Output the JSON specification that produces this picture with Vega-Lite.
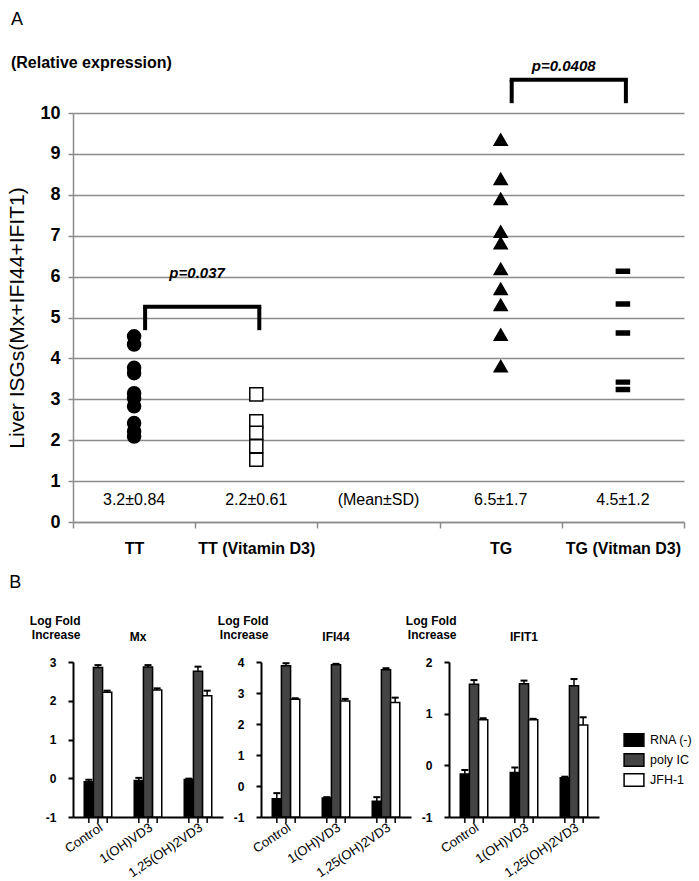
{
  "$schema": "https://vega.github.io/schema/vega-lite/v6.json",
  "background": "white",
  "padding": {"left": 6, "top": 10, "right": 5, "bottom": 0},
  "config": {"font": "Liberation Sans", "view": {"stroke": null}, "axisY": {"labelOverlap": false, "labelSeparation": 0}},
  "datasets": {
    "liver": [
      {"g": "TT", "v": 4.54}, {"g": "TT", "v": 4.34}, {"g": "TT", "v": 3.77}, {"g": "TT", "v": 3.64}, {"g": "TT", "v": 3.15},
      {"g": "TT", "v": 3.03}, {"g": "TT", "v": 2.83}, {"g": "TT", "v": 2.42}, {"g": "TT", "v": 2.22}, {"g": "TT", "v": 2.09},
      {"g": "TT (Vitamin D3)", "v": 3.12}, {"g": "TT (Vitamin D3)", "v": 2.46}, {"g": "TT (Vitamin D3)", "v": 2.18}, {"g": "TT (Vitamin D3)", "v": 1.85}, {"g": "TT (Vitamin D3)", "v": 1.52},
      {"g": "TG", "v": 9.35}, {"g": "TG", "v": 8.39}, {"g": "TG", "v": 7.9}, {"g": "TG", "v": 7.1}, {"g": "TG", "v": 6.82},
      {"g": "TG", "v": 6.19}, {"g": "TG", "v": 5.7}, {"g": "TG", "v": 5.31}, {"g": "TG", "v": 4.58}, {"g": "TG", "v": 3.81},
      {"g": "TG (Vitman D3)", "v": 6.13}, {"g": "TG (Vitman D3)", "v": 5.33}, {"g": "TG (Vitman D3)", "v": 4.62}, {"g": "TG (Vitman D3)", "v": 3.42}, {"g": "TG (Vitman D3)", "v": 3.24}
    ],
    "stats": [
      {"g": "TT", "t": "3.2±0.84"},
      {"g": "TT (Vitamin D3)", "t": "2.2±0.61"},
      {"g": "Mean±SD", "t": "(Mean±SD)"},
      {"g": "TG", "t": "6.5±1.7"},
      {"g": "TG (Vitman D3)", "t": "4.5±1.2"}
    ],
    "brackets": [
      {"g1": "TT", "g2": "TT (Vitamin D3)", "lo": 4.69, "hi": 5.26, "p": "p=0.037", "py": 6.09},
      {"g1": "TG", "g2": "TG (Vitman D3)", "lo": 10.24, "hi": 10.81, "p": "p=0.0408", "py": 11.15}
    ],
    "fold": [
      {"gene": "Mx", "grp": "Control", "s": "RNA (-)", "v": -0.09, "hi": -0.04},
      {"gene": "Mx", "grp": "Control", "s": "poly IC", "v": 2.86, "hi": 2.92},
      {"gene": "Mx", "grp": "Control", "s": "JFH-1", "v": 2.22, "hi": 2.26},
      {"gene": "Mx", "grp": "1(OH)VD3", "s": "RNA (-)", "v": -0.06, "hi": 0.01},
      {"gene": "Mx", "grp": "1(OH)VD3", "s": "poly IC", "v": 2.87, "hi": 2.92},
      {"gene": "Mx", "grp": "1(OH)VD3", "s": "JFH-1", "v": 2.28, "hi": 2.32},
      {"gene": "Mx", "grp": "1,25(OH)2VD3", "s": "RNA (-)", "v": -0.03, "hi": -0.01},
      {"gene": "Mx", "grp": "1,25(OH)2VD3", "s": "poly IC", "v": 2.76, "hi": 2.88},
      {"gene": "Mx", "grp": "1,25(OH)2VD3", "s": "JFH-1", "v": 2.13, "hi": 2.26},
      {"gene": "IFI44", "grp": "Control", "s": "RNA (-)", "v": -0.41, "hi": -0.23},
      {"gene": "IFI44", "grp": "Control", "s": "poly IC", "v": 3.88, "hi": 3.96},
      {"gene": "IFI44", "grp": "Control", "s": "JFH-1", "v": 2.8, "hi": 2.83},
      {"gene": "IFI44", "grp": "1(OH)VD3", "s": "RNA (-)", "v": -0.39, "hi": -0.36},
      {"gene": "IFI44", "grp": "1(OH)VD3", "s": "poly IC", "v": 3.91, "hi": 3.94},
      {"gene": "IFI44", "grp": "1(OH)VD3", "s": "JFH-1", "v": 2.74, "hi": 2.81},
      {"gene": "IFI44", "grp": "1,25(OH)2VD3", "s": "RNA (-)", "v": -0.49, "hi": -0.36},
      {"gene": "IFI44", "grp": "1,25(OH)2VD3", "s": "poly IC", "v": 3.75, "hi": 3.8},
      {"gene": "IFI44", "grp": "1,25(OH)2VD3", "s": "JFH-1", "v": 2.69, "hi": 2.85},
      {"gene": "IFIT1", "grp": "Control", "s": "RNA (-)", "v": -0.17, "hi": -0.09},
      {"gene": "IFIT1", "grp": "Control", "s": "poly IC", "v": 1.57, "hi": 1.65},
      {"gene": "IFIT1", "grp": "Control", "s": "JFH-1", "v": 0.88, "hi": 0.91},
      {"gene": "IFIT1", "grp": "1(OH)VD3", "s": "RNA (-)", "v": -0.14, "hi": -0.04},
      {"gene": "IFIT1", "grp": "1(OH)VD3", "s": "poly IC", "v": 1.58, "hi": 1.64},
      {"gene": "IFIT1", "grp": "1(OH)VD3", "s": "JFH-1", "v": 0.88, "hi": 0.9},
      {"gene": "IFIT1", "grp": "1,25(OH)2VD3", "s": "RNA (-)", "v": -0.24, "hi": -0.22},
      {"gene": "IFIT1", "grp": "1,25(OH)2VD3", "s": "poly IC", "v": 1.54, "hi": 1.67},
      {"gene": "IFIT1", "grp": "1,25(OH)2VD3", "s": "JFH-1", "v": 0.78, "hi": 0.93}
    ]
  },
  "bounds": "flush",
  "spacing": 140,
  "vconcat": [
    {
      "title": {"text": "A", "subtitle": "(Relative expression)", "anchor": "start", "frame": "bounds", "fontSize": 18, "fontWeight": "normal", "color": "black", "subtitleFontSize": 16, "subtitleFontWeight": "bold", "subtitleColor": "black", "subtitlePadding": 26, "offset": -12, "dx": 4},
      "width": 611,
      "height": 409,
      "encoding": {
        "x": {"field": "g", "type": "nominal",
          "scale": {"domain": ["TT", "TT (Vitamin D3)", "Mean±SD", "TG", "TG (Vitman D3)"], "paddingInner": 0, "paddingOuter": 0},
          "axis": {"title": null, "tickBand": "extent", "labelAngle": 0, "labelFontSize": 16, "labelFontWeight": "bold", "labelColor": "black", "labelPadding": 12,
            "labelExpr": "datum.label == 'Mean±SD' ? '' : datum.label",
            "domainColor": "#8c8c8c", "domainWidth": 1.5, "tickColor": "#8c8c8c", "tickWidth": 1.5, "tickSize": 6, "grid": false}}
      },
      "layer": [
        {
          "data": {"name": "liver"},
          "mark": {"type": "point", "filled": true, "stroke": "black", "strokeWidth": 1.5, "opacity": 1, "size": 170},
          "encoding": {
            "y": {"field": "v", "type": "quantitative", "scale": {"domain": [0, 10], "nice": false, "zero": true},
              "axis": {"title": "Liver ISGs(Mx+IFI44+IFIT1)", "titleFontSize": 21, "titleFontWeight": "normal", "titleColor": "black", "titlePadding": 12,
                "labelFontSize": 18, "labelFontWeight": "bold", "labelColor": "black", "labelPadding": 8, "labelOverlap": false,
                "values": [0, 1, 2, 3, 4, 5, 6, 7, 8, 9, 10], "grid": true, "gridColor": "#8c8c8c", "gridWidth": 1.5,
                "domainColor": "#8c8c8c", "domainWidth": 1.5, "tickColor": "#8c8c8c", "tickWidth": 1.5, "tickSize": 5}},
            "shape": {"field": "g", "type": "nominal", "legend": null,
              "scale": {"domain": ["TT", "TT (Vitamin D3)", "TG", "TG (Vitman D3)"], "range": ["circle", "square", "triangle-up", "M-1,-0.3H1V0.3H-1Z"]}},
            "fill": {"field": "g", "type": "nominal", "legend": null,
              "scale": {"domain": ["TT", "TT (Vitamin D3)", "TG", "TG (Vitman D3)"], "range": ["black", "white", "black", "black"]}}
          }
        },
        {
          "data": {"name": "stats"},
          "mark": {"type": "text", "fontSize": 16, "color": "black", "baseline": "middle"},
          "encoding": {"y": {"datum": 0.55, "type": "quantitative"}, "text": {"field": "t"}}
        },
        {
          "data": {"name": "brackets"},
          "mark": {"type": "rule", "strokeWidth": 4, "color": "black", "xOffset": 11, "x2Offset": 3, "strokeCap": "square"},
          "encoding": {"x": {"field": "g1", "type": "nominal"}, "x2": {"field": "g2"}, "y": {"field": "hi", "type": "quantitative"}}
        },
        {
          "data": {"name": "brackets"},
          "mark": {"type": "rule", "strokeWidth": 4, "color": "black", "xOffset": 11},
          "encoding": {"x": {"field": "g1", "type": "nominal"}, "y": {"field": "lo", "type": "quantitative"}, "y2": {"field": "hi"}}
        },
        {
          "data": {"name": "brackets"},
          "mark": {"type": "rule", "strokeWidth": 4, "color": "black", "xOffset": 3},
          "encoding": {"x": {"field": "g2", "type": "nominal"}, "y": {"field": "lo", "type": "quantitative"}, "y2": {"field": "hi"}}
        },
        {
          "data": {"name": "brackets"},
          "mark": {"type": "text", "fontSize": 15, "fontStyle": "italic", "fontWeight": "bold", "color": "black", "dx": 63, "baseline": "middle"},
          "encoding": {"x": {"field": "g1", "type": "nominal"}, "y": {"field": "py", "type": "quantitative"}, "text": {"field": "p"}}
        }
      ]
    },
    {
      "title": {"text": "B", "anchor": "start", "frame": "bounds", "fontSize": 18, "fontWeight": "normal", "color": "black", "offset": 22, "dx": -20},
      "bounds": "flush",
      "spacing": 38,
      "resolve": {"scale": {"x": "independent", "y": "independent", "xOffset": "independent", "fill": "independent"}, "legend": {"fill": "independent"}},
      "data": {"name": "fold"},
      "hconcat": [
        {
          "title": {"text": "Mx", "fontSize": 12, "fontWeight": "bold", "color": "black", "dx": -10, "offset": -30},
          "width": 150, "height": 155,
          "transform": [{"filter": "datum.gene == 'Mx'"}],
          "encoding": {
            "x": {"field": "grp", "type": "nominal", "scale": {"domain": ["Control", "1(OH)VD3", "1,25(OH)2VD3"], "paddingInner": 0.45, "paddingOuter": 0.225},
              "axis": {"title": null, "ticks": false, "labelAngle": -34, "labelFontSize": 13, "labelColor": "black", "labelPadding": 4, "labelOverlap": false, "domainColor": "black", "domainWidth": 2}},
            "xOffset": {"field": "s", "type": "nominal", "scale": {"domain": ["RNA (-)", "poly IC", "JFH-1"], "paddingInner": 0, "paddingOuter": 0}},
            "y": {"field": "v", "type": "quantitative", "scale": {"domain": [-1, 3], "nice": false, "zero": false},
              "axis": {"values": [-1, 0, 1, 2, 3], "labelExpr": "replace(datum.label, '−', '-')", "labelOverlap": false, "title": ["Log Fold", "Increase"], "titleAngle": 0, "titleAlign": "right", "titleBaseline": "top", "titleX": 7, "titleY": -47,
                "titleFontSize": 12, "titleFontWeight": "bold", "titleColor": "black", "titleLineHeight": 14,
                "labelFontSize": 12, "labelFontWeight": "bold", "labelColor": "black", "labelPadding": 12,
                "domainColor": "black", "domainWidth": 2, "tickColor": "black", "tickWidth": 2, "tickSize": 5, "grid": false}}
          },
          "layer": [
            {
              "mark": {"type": "bar", "stroke": "black", "strokeWidth": 1.5},
              "encoding": {
                "y2": {"datum": -1},
                "fill": {"field": "s", "type": "nominal", "legend": null, "scale": {"domain": ["RNA (-)", "poly IC", "JFH-1"], "range": ["black", "#444444", "white"]}}
              }
            },
            {"mark": {"type": "rule", "strokeWidth": 1.5, "color": "black"}, "encoding": {"y2": {"field": "hi"}}},
            {"mark": {"type": "tick", "thickness": 2, "size": 7, "color": "black", "opacity": 1}, "encoding": {"y": {"field": "hi", "type": "quantitative"}}},
            {"mark": {"type": "rule", "strokeWidth": 1.5, "color": "black", "y2Offset": 6}, "encoding": {"y": {"datum": -1, "type": "quantitative"}, "y2": {"datum": -1}}}
          ]
        },
        {
          "title": {"text": "IFI44", "fontSize": 12, "fontWeight": "bold", "color": "black", "offset": -30},
          "width": 150, "height": 155,
          "transform": [{"filter": "datum.gene == 'IFI44'"}],
          "encoding": {
            "x": {"field": "grp", "type": "nominal", "scale": {"domain": ["Control", "1(OH)VD3", "1,25(OH)2VD3"], "paddingInner": 0.45, "paddingOuter": 0.225},
              "axis": {"title": null, "ticks": false, "labelAngle": -34, "labelFontSize": 13, "labelColor": "black", "labelPadding": 4, "labelOverlap": false, "domainColor": "black", "domainWidth": 2}},
            "xOffset": {"field": "s", "type": "nominal", "scale": {"domain": ["RNA (-)", "poly IC", "JFH-1"], "paddingInner": 0, "paddingOuter": 0}},
            "y": {"field": "v", "type": "quantitative", "scale": {"domain": [-1, 4], "nice": false, "zero": false},
              "axis": {"values": [-1, 0, 1, 2, 3, 4], "labelExpr": "replace(datum.label, '−', '-')", "labelOverlap": false, "title": ["Log Fold", "Increase"], "titleAngle": 0, "titleAlign": "right", "titleBaseline": "top", "titleX": 7, "titleY": -47,
                "titleFontSize": 12, "titleFontWeight": "bold", "titleColor": "black", "titleLineHeight": 14,
                "labelFontSize": 12, "labelFontWeight": "bold", "labelColor": "black", "labelPadding": 12,
                "domainColor": "black", "domainWidth": 2, "tickColor": "black", "tickWidth": 2, "tickSize": 5, "grid": false}}
          },
          "layer": [
            {
              "mark": {"type": "bar", "stroke": "black", "strokeWidth": 1.5},
              "encoding": {
                "y2": {"datum": -1},
                "fill": {"field": "s", "type": "nominal", "legend": null, "scale": {"domain": ["RNA (-)", "poly IC", "JFH-1"], "range": ["black", "#444444", "white"]}}
              }
            },
            {"mark": {"type": "rule", "strokeWidth": 1.5, "color": "black"}, "encoding": {"y2": {"field": "hi"}}},
            {"mark": {"type": "tick", "thickness": 2, "size": 7, "color": "black", "opacity": 1}, "encoding": {"y": {"field": "hi", "type": "quantitative"}}},
            {"mark": {"type": "rule", "strokeWidth": 1.5, "color": "black", "y2Offset": 6}, "encoding": {"y": {"datum": -1, "type": "quantitative"}, "y2": {"datum": -1}}}
          ]
        },
        {
          "title": {"text": "IFIT1", "fontSize": 12, "fontWeight": "bold", "color": "black", "offset": -30},
          "width": 150, "height": 155,
          "transform": [{"filter": "datum.gene == 'IFIT1'"}],
          "encoding": {
            "x": {"field": "grp", "type": "nominal", "scale": {"domain": ["Control", "1(OH)VD3", "1,25(OH)2VD3"], "paddingInner": 0.45, "paddingOuter": 0.225},
              "axis": {"title": null, "ticks": false, "labelAngle": -34, "labelFontSize": 13, "labelColor": "black", "labelPadding": 4, "labelOverlap": false, "domainColor": "black", "domainWidth": 2}},
            "xOffset": {"field": "s", "type": "nominal", "scale": {"domain": ["RNA (-)", "poly IC", "JFH-1"], "paddingInner": 0, "paddingOuter": 0}},
            "y": {"field": "v", "type": "quantitative", "scale": {"domain": [-1, 2], "nice": false, "zero": false},
              "axis": {"values": [-1, 0, 1, 2], "labelExpr": "replace(datum.label, '−', '-')", "labelOverlap": false, "title": ["Log Fold", "Increase"], "titleAngle": 0, "titleAlign": "right", "titleBaseline": "top", "titleX": 7, "titleY": -47,
                "titleFontSize": 12, "titleFontWeight": "bold", "titleColor": "black", "titleLineHeight": 14,
                "labelFontSize": 12, "labelFontWeight": "bold", "labelColor": "black", "labelPadding": 12,
                "domainColor": "black", "domainWidth": 2, "tickColor": "black", "tickWidth": 2, "tickSize": 5, "grid": false}}
          },
          "layer": [
            {
              "mark": {"type": "bar", "stroke": "black", "strokeWidth": 1.5},
              "encoding": {
                "y2": {"datum": -1},
                "fill": {"field": "s", "type": "nominal",
                  "scale": {"domain": ["RNA (-)", "poly IC", "JFH-1"], "range": ["black", "#444444", "white"]},
                  "legend": {"orient": "none", "legendX": 175, "legendY": 68, "title": null, "symbolType": "M-1.1,-0.7H1.1V0.7H-1.1Z", "symbolSize": 324,
                    "symbolStrokeColor": "black", "symbolStrokeWidth": 1.5, "labelFontSize": 12.5, "labelColor": "black", "labelOffset": 6, "rowPadding": 0}}
              }
            },
            {"mark": {"type": "rule", "strokeWidth": 1.5, "color": "black"}, "encoding": {"y2": {"field": "hi"}}},
            {"mark": {"type": "tick", "thickness": 2, "size": 7, "color": "black", "opacity": 1}, "encoding": {"y": {"field": "hi", "type": "quantitative"}}},
            {"mark": {"type": "rule", "strokeWidth": 1.5, "color": "black", "y2Offset": 6}, "encoding": {"y": {"datum": -1, "type": "quantitative"}, "y2": {"datum": -1}}}
          ]
        }
      ]
    }
  ]
}
